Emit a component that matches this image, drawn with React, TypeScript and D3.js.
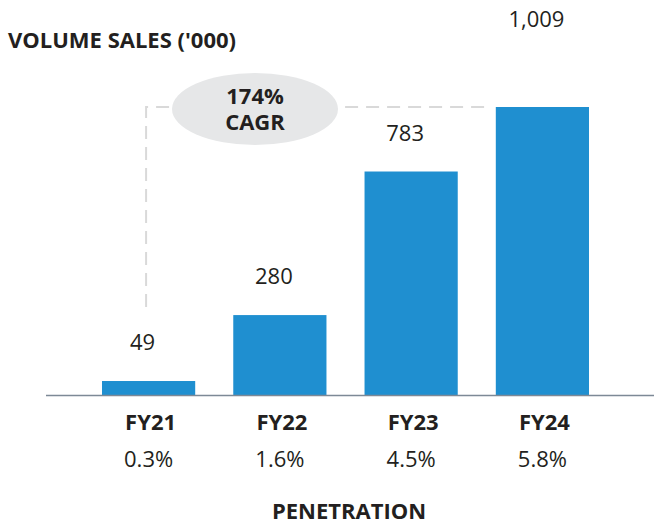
import React from "react"
import * as d3 from "d3"

const years = ["FY21", "FY22", "FY23", "FY24"]
const volumes = [49, 280, 783, 1009]
const volumeLabels = ["49", "280", "783", "1,009"]
const penetration = ["0.3%", "1.6%", "4.5%", "5.8%"]
const cagrLines = ["174%", "CAGR"]

const W = 655
const H = 525
const FONT = "'Open Sans', 'DejaVu Sans', sans-serif"
const INK = "#231f20"

const App = () => {
    // Plot area: bars sit on the baseline at y=395
    const baseY = 395
    const x = d3.scaleBand()
                .domain(years)
                .range([102, 589])
                .paddingInner(0.29)
                .paddingOuter(0)
    const y = d3.scaleLinear()
                .domain([0, 1009])
                .range([baseY, 107])

    const cx = (d: string) => (x(d) ?? 0) + x.bandwidth() / 2
    const first = years[0]
    const last = years[years.length - 1]
    const topY = y(volumes[volumes.length - 1])

    // dashed bracket from first bar up to the last bar
    const bracket = d3.path()
    bracket.moveTo(cx(first) - 2.5, 307)
    bracket.lineTo(cx(first) - 2.5, topY)
    bracket.lineTo((x(last) ?? 0) - 10, topY)

    return (
        <svg width={W} height={H} style={{ position: "absolute", left: 0, top: 0 }}
             fontFamily={FONT}>
            <rect width={W} height={H} fill="#ffffff" />

            <text x={8} y={48} fontSize={22} fontWeight={700} fill={INK}>
                VOLUME SALES ('000)
            </text>

            <path d={bracket.toString()} fill="none" stroke="#d9d9d9"
                  strokeWidth={2} strokeDasharray="13 8" />

            <ellipse cx={255} cy={109} rx={83} ry={36} fill="#e6e7e8" />
            <text x={255} y={104} textAnchor="middle" fontSize={22}
                  fontWeight={700} fill={INK}>
                {cagrLines.map((t, i) => (
                    <tspan key={t} x={255} dy={i === 0 ? 0 : 26}>{t}</tspan>
                ))}
            </text>

            {years.map((d, i) => (
                <rect key={d} x={x(d)} y={y(volumes[i])}
                      width={x.bandwidth()} height={baseY - y(volumes[i])}
                      fill="#1f8fd0" />
            ))}

            {years.map((d, i) => (
                <text key={d} x={cx(d) - 6}
                      y={y(volumes[i]) - (i === years.length - 1 ? 80 : 31)}
                      textAnchor="middle" fontSize={22} fill={INK}>
                    {volumeLabels[i]}
                </text>
            ))}

            <line x1={46} x2={654} y1={baseY + 0.5} y2={baseY + 0.5}
                  stroke="#7d8996" strokeWidth={1.5} />

            {years.map((d, i) => (
                <g key={d}>
                    <text x={cx(d) + 2} y={430} textAnchor="middle" fontSize={22}
                          fontWeight={700} fill={INK}>{d}</text>
                    <text x={cx(d)} y={467} textAnchor="middle" fontSize={22}
                          fill={INK}>{penetration[i]}</text>
                </g>
            ))}

            <text x={349} y={519} textAnchor="middle" fontSize={22}
                  fontWeight={700} fill={INK}>PENETRATION</text>
        </svg>
    )
}

export default App
